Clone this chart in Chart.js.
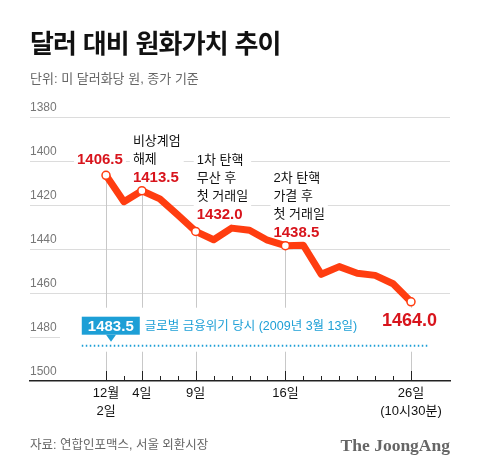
<!DOCTYPE html>
<html lang="ko">
<head>
<meta charset="utf-8">
<script src="https://cdn.jsdelivr.net/npm/chart.js@4.4.1/dist/chart.umd.min.js"></script>
<style>
  html, body { margin: 0; padding: 0; background: #fff; }
  #wrap { position: relative; width: 480px; height: 474px; overflow: hidden; }
  #wrap canvas { position: absolute; left: 0; top: 0; }
  .txt { position: absolute; white-space: nowrap; font-family: "Liberation Sans", "Noto Sans CJK KR", sans-serif; }
  .title { left: 30px; top: 29px; font-family: "Noto Sans CJK KR", sans-serif; font-size: 26px; font-weight: 700; line-height: 26px; color: #111; letter-spacing: -0.8px; }
  .sub { left: 30px; top: 72px; font-size: 13px; line-height: 13px; color: #666; }
  .src { left: 30px; top: 439px; font-size: 12.5px; line-height: 13px; color: #666; }
  .brand { right: 30px; top: 437px; font-family: "Liberation Serif", serif; font-weight: 700; font-size: 17.5px; line-height: 17.5px; color: #666; }
</style>
</head>
<body>
<div id="wrap">
  <canvas id="rateChart"></canvas>
  <div class="txt title">달러 대비 원화가치 추이</div>
  <div class="txt sub">단위: 미 달러화당 원, 종가 기준</div>
  <div class="txt src">자료: 연합인포맥스, 서울 외환시장</div>
  <div class="txt brand">The JoongAng</div>
</div>
<script>
// trading days of Dec 2024
const days = ['12/2', '12/3', '12/4', '12/5', '12/6', '12/9', '12/10', '12/11', '12/12',
              '12/13', '12/16', '12/17', '12/18', '12/19', '12/20', '12/23', '12/24', '12/26'];
const rates = [1406.5, 1418.5, 1413.5, 1417.2, 1424.5, 1432.0, 1435.8, 1430.5, 1431.5,
               1436.0, 1438.5, 1438.3, 1451.5, 1448.0, 1451.0, 1452.0, 1455.8, 1464.0];

const yTicks = [1380, 1400, 1420, 1440, 1460, 1480, 1500];
const labelIdx = [0, 2, 5, 10, 17];
const xLabels = [['12월', '2일'], ['4일'], ['9일'], ['16일'], ['26일', '(10시30분)']];

const notes = [
    { i: 0, lines: [] },
    { i: 2, lines: ['비상계엄', '해제'] },
    { i: 5, lines: ['1차 탄핵', '무산 후', '첫 거래일'] },
    { i: 10, lines: ['2차 탄핵', '가결 후', '첫 거래일'] },
    { i: 17, lines: [] }
];

const crisisRate = 1483.5;
const crisisText = '글로벌 금융위기 당시 (2009년 3월 13일)';

const FONT = '"Liberation Sans", "Noto Sans CJK KR", sans-serif';
const RED = '#d8141c';
const LINE = '#ff3d10';
const BLUE = '#1d9fd6';

const overlay = {
    id: 'overlay',
    beforeDatasetsDraw(chart) {
        const { ctx, scales: { x, y }, chartArea } = chart;
        const base = chartArea.bottom;
        ctx.save();

        // tick marks on the axis, one per trading day
        ctx.strokeStyle = '#222';
        ctx.lineWidth = 1;
        days.forEach((d, i) => {
            const px = Math.round(x.getPixelForValue(i)) + 0.5;
            const len = labelIdx.includes(i) ? 10 : 5;
            ctx.beginPath();
            ctx.moveTo(px, base);
            ctx.lineTo(px, base - len);
            ctx.stroke();
        });

        // thin guides from marked points to the axis
        ctx.strokeStyle = '#c8c8c8';
        labelIdx.forEach(i => {
            const px = Math.round(x.getPixelForValue(i)) + 0.5;
            ctx.beginPath();
            ctx.moveTo(px, y.getPixelForValue(rates[i]));
            ctx.lineTo(px, base - 10);
            ctx.stroke();
        });

        // white band behind the crisis reference
        const cy = y.getPixelForValue(crisisRate);
        ctx.fillStyle = '#fff';
        ctx.fillRect(60, cy - 37, chartArea.right - 60, 44);

        // dotted reference line
        const x0 = x.getPixelForValue(-1.35);
        const x1 = x.getPixelForValue(18.0);
        ctx.strokeStyle = BLUE;
        ctx.lineWidth = 2;
        ctx.setLineDash([1.5, 2.5]);
        ctx.beginPath();
        ctx.moveTo(x0, cy + 1);
        ctx.lineTo(x1, cy + 1);
        ctx.stroke();
        ctx.setLineDash([]);

        // blue value tag with pointer
        const tagL = x0, tagW = 58, tagT = cy - 28, tagH = 18;
        const tip = x.getPixelForValue(0.28);
        ctx.fillStyle = BLUE;
        ctx.fillRect(tagL, tagT, tagW, tagH);
        ctx.beginPath();
        ctx.moveTo(tip - 5, tagT + tagH);
        ctx.lineTo(tip + 5, tagT + tagH);
        ctx.lineTo(tip, tagT + tagH + 7);
        ctx.closePath();
        ctx.fill();
        ctx.fillStyle = '#fff';
        ctx.font = 'bold 15px ' + FONT;
        ctx.textAlign = 'center';
        ctx.textBaseline = 'middle';
        ctx.fillText(crisisRate.toFixed(1), tagL + tagW / 2, tagT + tagH / 2 + 1);
        ctx.fillStyle = BLUE;
        ctx.textAlign = 'left';
        ctx.font = '12.5px ' + FONT;
        ctx.fillText(crisisText, tagL + tagW + 5, tagT + tagH / 2 + 1);

        // annotations: offsets relative to each point
        const offs = { 0: [-29, -15, 15], 2: [-9, -13, 15], 5: [1, -16.5, 15], 10: [-12, -13, 15], 17: [-29, 19, 18] };
        notes.forEach(n => {
            const px = x.getPixelForValue(n.i);
            const py = y.getPixelForValue(rates[n.i]);
            const [dx, dy, fs] = offs[n.i];
            const tx = px + dx;
            const vy = py + dy;
            const n0 = n.lines.length;
            const top = vy - 18 * n0 - 10;
            ctx.font = '13px ' + FONT;
            let w = 0;
            n.lines.forEach(l => { w = Math.max(w, ctx.measureText(l).width); });
            ctx.font = 'bold ' + fs + 'px ' + FONT;
            const vtxt = rates[n.i].toFixed(1);
            w = Math.max(w, ctx.measureText(vtxt).width);
            ctx.fillStyle = '#fff';
            ctx.fillRect(tx - 3, top, w + 6, vy + 9 - top);

            ctx.textAlign = 'left';
            ctx.textBaseline = 'middle';
            ctx.fillStyle = '#111';
            ctx.font = '13px ' + FONT;
            n.lines.forEach((l, k) => {
                ctx.fillText(l, tx, vy - 18 * (n0 - k));
            });
            ctx.fillStyle = RED;
            ctx.font = 'bold ' + fs + 'px ' + FONT;
            ctx.fillText(vtxt, tx, vy);
        });

        ctx.restore();
    }
};

const ctx = document.getElementById('rateChart').getContext('2d');
const rateChart = new Chart(ctx, {
    type: 'line',
    data: {
        datasets: [{
            label: '원/달러 환율',
            data: rates.map((v, i) => ({ x: i, y: v })),
            borderColor: LINE,
            borderWidth: 7,
            borderJoinStyle: 'round',
            borderCapStyle: 'round',
            tension: 0,
            pointRadius: c => labelIdx.includes(c.dataIndex) ? 4 : 0,
            pointBackgroundColor: '#fff',
            pointBorderColor: LINE,
            pointBorderWidth: 1.5,
            clip: false
        }]
    },
    options: {
        responsive: true,
        maintainAspectRatio: false,
        animation: false,
        layout: { padding: { left: 30, right: 30, top: 117, bottom: 53 } },
        plugins: {
            legend: { display: false },
            tooltip: { enabled: false }
        },
        scales: {
            x: {
                type: 'linear',
                min: -4.236,
                max: 19.174,
                afterBuildTicks: s => { s.ticks = labelIdx.map(v => ({ value: v })); },
                afterFit: s => { s.height = 40; },
                grid: { display: false, drawTicks: false },
                border: { display: true, color: '#222', width: 1.5 },
                ticks: {
                    autoSkip: false,
                    maxRotation: 0,
                    padding: 4,
                    color: '#111',
                    font: { family: FONT, size: 13, lineHeight: 1.35 },
                    callback: v => xLabels[labelIdx.indexOf(v)]
                }
            },
            y: {
                reverse: true,
                min: 1380,
                max: 1500,
                afterBuildTicks: s => { s.ticks = yTicks.map(v => ({ value: v })); },
                afterFit: s => { s.width = 0; },
                border: { display: false },
                grid: {
                    drawTicks: false,
                    color: c => c.tick && c.tick.value === 1500 ? 'rgba(0,0,0,0)' : '#dcdcdc',
                    lineWidth: 1
                },
                ticks: {
                    mirror: true,
                    padding: 0,
                    labelOffset: -9,
                    color: '#777',
                    font: { family: FONT, size: 12 },
                    callback: v => String(v)
                }
            }
        }
    },
    plugins: [overlay]
});
</script>
</body>
</html>
